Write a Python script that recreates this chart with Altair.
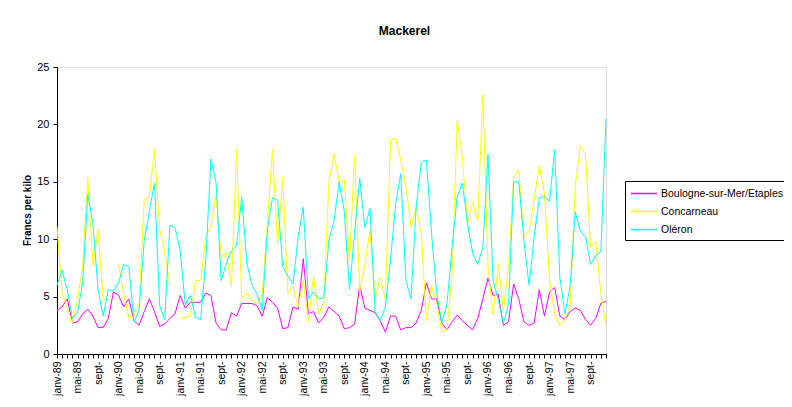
import altair as alt
import pandas as pd

# ---- data ----
tick_labels = ["janv-89", "mai-89", "sept-", "janv-90", "mai-90", "sept-",
               "janv-91", "mai-91", "sept-", "janv-92", "mai-92", "sept-",
               "janv-93", "mai-93", "sept-", "janv-94", "mai-94", "sept-",
               "janv-95", "mai-95", "sept-", "janv-96", "mai-96", "sept-",
               "janv-97", "mai-97", "sept-"]

boulogne = [3.8, 4.1, 4.8, 2.7, 2.8, 3.5, 3.9, 3.3, 2.3, 2.3, 3.1, 5.4,
            5.1, 4.1, 4.8, 2.9, 2.5, 3.7, 4.8, 3.7, 2.4, 2.6, 3.1, 3.5,
            5.1, 4.0, 4.5, 4.5, 4.5, 5.3, 5.1, 2.7, 2.1, 2.1, 3.6, 3.3,
            4.4, 4.4, 4.4, 4.2, 3.3, 4.9, 4.5, 4.0, 2.2, 2.3, 4.1, 3.9,
            8.3, 3.5, 3.7, 2.7, 3.2, 4.1, 3.7, 3.3, 2.2, 2.3, 2.6, 6.0,
            4.0, 3.8, 3.6, 2.9, 1.9, 3.3, 3.3, 2.1, 2.3, 2.3, 2.7, 3.8,
            6.2, 4.8, 4.8, 2.7, 2.1, 2.8, 3.4, 2.9, 2.5, 2.1, 3.1, 4.8,
            6.6, 5.1, 5.2, 2.5, 2.8, 6.1, 4.8, 2.8, 2.5, 2.7, 5.6, 3.3,
            5.4, 5.8, 3.3, 3.0, 3.7, 4.0, 3.8, 3.0, 2.5, 3.1, 4.4, 4.6]

concarneau = [11.1, 5.3, 4.0, 2.7, 4.7, 7.6, 15.4, 7.7, 10.9, 4.7, 4.8, None,
              7.8, 5.3, 3.1, 3.3, 4.3, 13.4, 13.7, 17.8, 10.9, 8.9, 5.9, None,
              3.1, 3.2, 3.3, 6.4, 6.4, 10.2, 11.2, 13.9, 8.4, 8.8, 5.9, 17.8,
              4.8, 5.3, 4.7, 4.4, 5.2, 11.4, 17.8, 9.5, 15.4, 5.3, 5.9, 4.1,
              6.4, 2.8, 6.8, 3.5, 4.5, 15.0, 17.4, 15.0, 15.2, 8.0, 17.3, 5.5,
              7.7, 10.8, 4.7, 6.7, 4.7, 18.6, 18.8, 16.9, 14.6, 11.1, 12.8, 10.5,
              2.9, 6.0, 4.4, 1.9, 2.1, 6.8, 20.4, 17.2, 11.4, 13.2, 11.6, 22.6,
              7.6, 3.4, 7.9, 3.8, 7.6, 15.4, 16.0, 10.2, 10.7, 13.4, 16.4, 14.0,
              6.4, 3.5, 2.5, 3.0, 4.1, 14.6, 18.1, 17.5, 9.3, 9.8, 5.3, 2.4]

oleron = [6.0, 7.3, 5.6, 3.1, 3.6, 6.2, 13.9, 11.4, 5.6, 3.3, 5.6, 5.5,
          6.2, 7.8, 7.6, 2.8, 3.8, 9.9, 12.4, 14.9, 4.2, 3.0, 11.2, 11.0,
          9.1, 4.3, 5.1, 3.2, 3.0, 8.2, 17.0, 15.0, 6.4, 7.9, 9.0, 9.4,
          13.7, 7.9, 6.0, 5.2, 3.8, 10.8, 13.6, 13.4, 7.6, 6.8, 6.1, 10.2,
          12.8, 4.8, 5.4, 4.8, 4.9, 9.9, 11.6, 15.0, 12.4, 5.6, 10.5, 15.3,
          11.0, 12.7, 3.7, 2.9, 4.1, 8.2, 13.1, 15.7, 6.4, 4.8, 12.8, 16.7,
          16.9, 10.5, 5.3, 2.7, 4.3, 9.3, 13.7, 14.9, 11.4, 8.8, 7.8, 9.3,
          17.4, 6.4, 4.7, 2.7, 4.3, 15.0, 15.0, 9.9, 6.0, 10.2, 13.6, 13.7,
          13.3, 17.8, 6.7, 3.5, 5.9, 12.4, 10.7, 10.2, 7.8, 8.6, 8.9, 20.5]

series_names = ["Boulogne-sur-Mer/Etaples", "Concarneau", "Oléron"]
series_colors = ["#FF00FF", "#FFFF00", "#00FFFF"]
y_ticks = [0, 5, 10, 15, 20, 25]

# ---- table (gaps in a series break the line) ----
rows = []
for name, vals in zip(series_names, [boulogne, concarneau, oleron]):
    seg = 0
    for i, v in enumerate(vals):
        if v is None:
            seg += 1
            continue
        rows.append({"month": i, "price": v, "series": name, "seg": f"{name}-{seg}"})
df = pd.DataFrame(rows)

n_months = len(boulogne)
label_js = "[" + ",".join(f"'{t}'" for t in tick_labels) + "]"
label_expr = f"datum.value % 4 == 0 ? {label_js}[datum.value / 4] : ''"

FONT = "Liberation Sans"

chart = alt.Chart(df).mark_line(strokeWidth=1).encode(
    x=alt.X("month:Q",
            scale=alt.Scale(domain=[0, n_months - 1], nice=False, zero=False),
            axis=alt.Axis(values=list(range(n_months)), labelExpr=label_expr,
                          labelAngle=270, labelAlign="right", labelBaseline="middle",
                          labelPadding=3, tickSize=4, labelOverlap=False,
                          labelFlush=False, labelBound=False, grid=False, title=None,
                          domainColor="black", tickColor="black",
                          labelFont=FONT, labelFontSize=10.5, labelColor="black")),
    y=alt.Y("price:Q",
            scale=alt.Scale(domain=[0, 25], nice=False),
            axis=alt.Axis(values=y_ticks, grid=False, title="Francs per kilo",
                          titleFont=FONT, titleFontSize=10, titleFontWeight="bold",
                          titleColor="black", titleAngle=270, titleX=-30, titleY=143,
                          titleAlign="center", titleBaseline="middle",
                          tickSize=4, labelPadding=4, domainColor="black",
                          tickColor="black", labelFont=FONT, labelFontSize=11,
                          labelColor="black")),
    color=alt.Color("series:N",
                    scale=alt.Scale(domain=series_names, range=series_colors),
                    legend=alt.Legend(title=None, orient="none", legendX=568, legendY=114,
                                      strokeColor="black", fillColor="white", padding=5,
                                      symbolType="M-1,0L3,0", symbolSize=169,
                                      symbolStrokeWidth=1.5, labelOffset=16, rowPadding=5,
                                      labelFont=FONT, labelFontSize=10.5,
                                      labelColor="black")),
    detail="seg:N",
).properties(
    width=549,
    height=287,
    title=alt.TitleParams("Mackerel", font=FONT, fontSize=12, fontWeight="bold",
                          color="black", anchor="middle", frame="group",
                          dx=73, offset=23),
    autosize=alt.AutoSizeParams(type="none"),
    padding={"left": 49, "top": 59, "right": 178, "bottom": 44},
).configure_view(
    stroke="#a0a0a0", strokeWidth=1
).configure(
    font=FONT, background="white"
)

chart.save("out.html", embed_options={"renderer": "svg", "actions": False})
